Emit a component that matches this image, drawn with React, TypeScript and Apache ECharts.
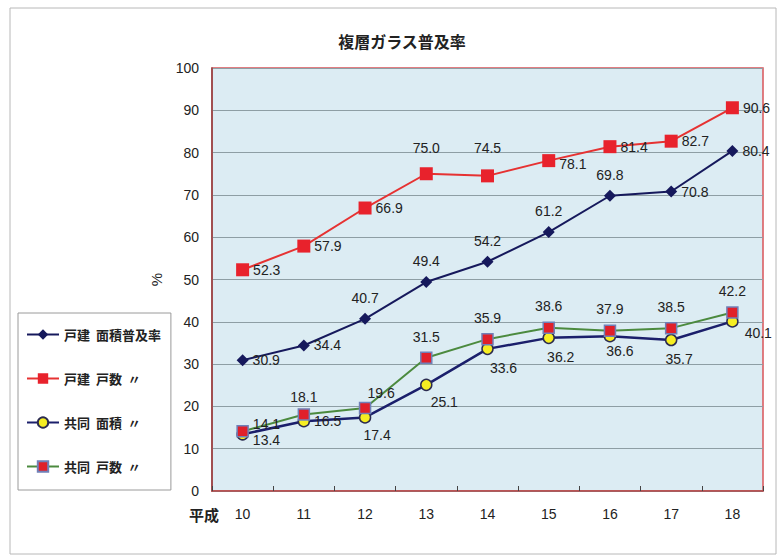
import React, { useEffect, useRef } from "react";
import * as echarts from "echarts";

const title = "複層ガラス普及率";
const categories = ["10", "11", "12", "13", "14", "15", "16", "17", "18"];
const yTicks = { min: 0, max: 100, interval: 10 };
const seriesNames = ["戸建  面積普及率", "戸建  戸数  〃", "共同  面積  〃", "共同  戸数  〃"];

const kodateArea = [30.9, 34.4, 40.7, 49.4, 54.2, 61.2, 69.8, 70.8, 80.4];
const kodateCount = [52.3, 57.9, 66.9, 75.0, 74.5, 78.1, 81.4, 82.7, 90.6];
const kyodoArea = [13.4, 16.5, 17.4, 25.1, 33.6, 36.2, 36.6, 35.7, 40.1];
const kyodoCount = [14.1, 18.1, 19.6, 31.5, 35.9, 38.6, 37.9, 38.5, 42.2];

// label placement (style), separate from data
type LP = { p: string; o?: [number, number] };
const lpKodateArea: LP[] = [
  { p: "right" }, { p: "right" }, { p: "top", o: [0, -4] }, { p: "top", o: [0, -4] }, { p: "top", o: [0, -4] },
  { p: "top", o: [0, -4] }, { p: "top", o: [0, -4] }, { p: "right" }, { p: "right" },
];
const lpKodateCount: LP[] = [
  { p: "right" }, { p: "right" }, { p: "right" }, { p: "top", o: [0, -8] }, { p: "top", o: [0, -10] },
  { p: "right", o: [0, 3] }, { p: "right" }, { p: "right" }, { p: "right" },
];
const lpKyodoArea: LP[] = [
  { p: "right", o: [0, 6] }, { p: "right" }, { p: "bottom", o: [12, 0] }, { p: "bottom", o: [18, 0] }, { p: "bottom", o: [16, 2] },
  { p: "bottom", o: [12, 2] }, { p: "bottom", o: [10, -2] }, { p: "bottom", o: [8, 2] }, { p: "right", o: [2, 12] },
];
const lpKyodoCount: LP[] = [
  { p: "right", o: [0, -7] }, { p: "top" }, { p: "top", o: [16, 2] }, { p: "top", o: [0, -4] }, { p: "top", o: [0, -4] },
  { p: "top", o: [0, -4] }, { p: "top", o: [0, -4] }, { p: "top", o: [0, -4] }, { p: "top", o: [0, -4] },
];

const fontFamily = "'Liberation Sans', Arial, sans-serif";
const cjk = "'Noto Sans CJK JP', sans-serif";

function buildData(values: number[], lps: LP[]) {
  return values.map((v, i) => ({
    value: v,
    label: { position: lps[i].p, offset: lps[i].o || [0, 0] },
  }));
}

export default function App() {
  const ref = useRef<HTMLDivElement>(null);
  useEffect(() => {
    if (!ref.current) return;
    const chart = echarts.init(ref.current, undefined, { renderer: "svg" });
    const label = {
      show: true,
      fontSize: 14,
      color: "#222",
      fontFamily,
      distance: 4,
      formatter: (p: any) => Number(p.value).toFixed(1),
    };
    chart.setOption({
      animation: false,
      backgroundColor: "#ffffff",
      title: {
        text: title,
        left: 397,
        top: 28,
        textAlign: "center",
        textStyle: { fontSize: 16, fontWeight: "bold", color: "#222", fontFamily: cjk },
      },
      grid: {
        left: 212,
        top: 68,
        right: 17,
        bottom: 65,
        show: true,
        backgroundColor: "#dcecf3",
        borderColor: "#d9545a",
        borderWidth: 1.5,
      },
      legend: {
        orient: "vertical",
        left: 18,
        top: 313,
        padding: [15, 10, 17, 8],
        backgroundColor: "#ffffff",
        borderColor: "#9a9a9a",
        borderWidth: 1,
        itemGap: 31,
        itemWidth: 32,
        itemHeight: 13,
        data: seriesNames,
        textStyle: { fontSize: 13, color: "#222", fontWeight: "bold", fontFamily: cjk },
      },
      xAxis: {
        type: "category",
        data: categories,
        boundaryGap: true,
        axisLine: { lineStyle: { color: "#b04848", width: 1.5 } },
        axisTick: { show: true, inside: true, length: 5, lineStyle: { color: "#444" } },
        axisLabel: { fontSize: 14, color: "#222", margin: 16, fontFamily },
        splitLine: { show: false },
      },
      yAxis: {
        type: "value",
        min: yTicks.min,
        max: yTicks.max,
        interval: yTicks.interval,
        name: "%",
        nameLocation: "middle",
        nameGap: 48,
        nameRotate: 90,
        nameTextStyle: { fontSize: 15, color: "#222", fontFamily },
        axisLine: { show: true, lineStyle: { color: "#8c4040", width: 1.5 } },
        axisTick: { show: false },
        axisLabel: { fontSize: 14, color: "#222", margin: 13, fontFamily },
        splitLine: { show: true, lineStyle: { color: "#8e9ea4", width: 1 } },
      },
      graphic: [
        {
          type: "rect",
          shape: { x: 10, y: 8, width: 766, height: 546 },
          style: { fill: "none", stroke: "#b8b8b8", lineWidth: 1 },
          z: -1,
        },
        {
          type: "text",
          left: 189,
          top: 507,
          style: { text: "平成", font: "bold 15px 'Noto Sans CJK JP', sans-serif", fill: "#222" },
        },
      ],
      series: [
        {
          name: seriesNames[0],
          type: "line",
          data: buildData(kodateArea, lpKodateArea),
          symbol: "diamond",
          symbolSize: 12,
          lineStyle: { color: "#16195c", width: 2 },
          itemStyle: { color: "#16195c" },
          label,
          z: 3,
        },
        {
          name: seriesNames[1],
          type: "line",
          data: buildData(kodateCount, lpKodateCount),
          symbol: "rect",
          symbolSize: 13,
          lineStyle: { color: "#e63232", width: 2 },
          itemStyle: { color: "#e8222c" },
          label,
          z: 3,
        },
        {
          name: seriesNames[2],
          type: "line",
          data: buildData(kyodoArea, lpKyodoArea),
          symbol: "circle",
          symbolSize: 11,
          lineStyle: { color: "#1b1f6b", width: 2.5 },
          itemStyle: { color: "#f6ee22", borderColor: "#2b2b50", borderWidth: 1.5 },
          label,
          z: 2,
        },
        {
          name: seriesNames[3],
          type: "line",
          data: buildData(kyodoCount, lpKyodoCount),
          symbol: "rect",
          symbolSize: 11,
          lineStyle: { color: "#4b8a3e", width: 2 },
          itemStyle: { color: "#e0202a", borderColor: "#7080b8", borderWidth: 1.5 },
          label,
          z: 4,
        },
      ],
    });
    return () => chart.dispose();
  }, []);
  return (
    <div
      ref={ref}
      style={{ position: "fixed", left: 0, top: 0, width: 780, height: 556 }}
    />
  );
}
